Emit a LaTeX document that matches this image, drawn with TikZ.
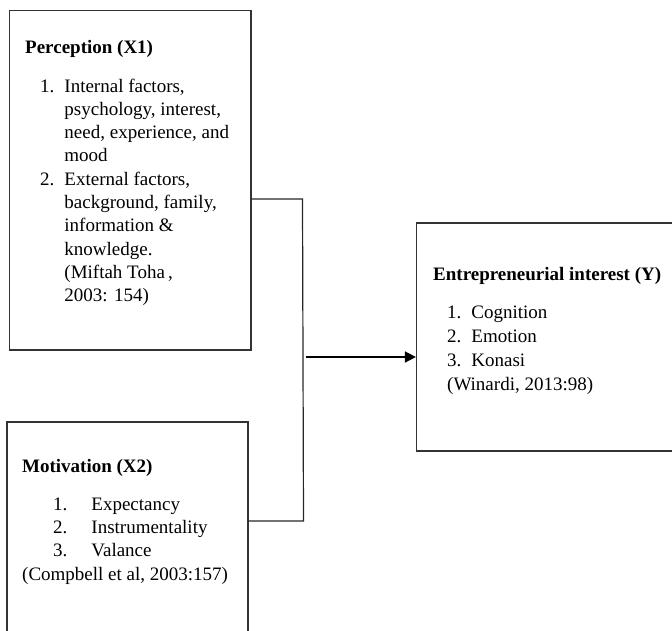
\documentclass[tikz,border=0pt]{standalone}
\usepackage{fontspec}
\setmainfont{Liberation Serif}
\usetikzlibrary{arrows.meta}
\tikzset{
  box/.style={draw=black!80, line width=1.2pt, inner sep=0pt, rectangle},
  conn/.style={draw=black!85, line width=1.2pt},
  txt/.style={anchor=base west, inner sep=0pt, font=\fontsize{19}{23.3}\selectfont},
  ttl/.style={txt, font=\fontsize{19}{23.3}\selectfont\bfseries}
}
\begin{document}
\begin{tikzpicture}[x=1pt,y=-1pt]
\useasboundingbox (0,0) rectangle (672,630);
\begin{scope}
\clip (0,0) rectangle (672,630);
% boxes
\node[box, minimum width=241.5pt, minimum height=339.5pt] (b1) at (130.25,180.25) {};
\node[box, minimum width=241pt, minimum height=228pt] (b2) at (127.5,536) {};
\node[box, minimum width=268pt, minimum height=228pt] (b3) at (550.5,337) {};
\end{scope}
% box 1 text
\node[ttl] (t1) at (25,53) {Perception (X1)};
\node[txt] (l1) at (40,92) {\begin{tabular}[t]{@{}l@{\hspace{10pt}}l@{}}
1. & Internal factors,\\
   & psychology, interest,\\
   & need, experience, and\\
   & mood\\
2. & External factors,\\
   & background, family,\\
   & information \&\\
   & knowledge.\\
   & (Miftah Toha\,,\\
   & 2003: 154)
\end{tabular}};
% box 2 text
\node[ttl] (t2) at (22,472) {Motivation (X2)};
\node[txt] (l2) at (53,510) {\begin{tabular}[t]{@{}l@{\hspace{24pt}}l@{}}
1. & Expectancy\\
2. & Instrumentality\\
3. & Valance
\end{tabular}};
\node[txt] (c2) at (22,580) {(Compbell et al, 2003:157)};
% box 3 text
\node[ttl] (t3) at (433,280) {Entrepreneurial interest (Y)};
\node[txt, font=\fontsize{19}{24}\selectfont] (l3) at (447,318) {\begin{tabular}[t]{@{}l@{\hspace{10pt}}l@{}}
1. & Cognition\\
2. & Emotion\\
3. & Konasi\\
\multicolumn{2}{@{}l@{}}{(Winardi, 2013:98)}
\end{tabular}};
% connectors
\coordinate (j1) at (302.5,199);
\coordinate (j2) at (303.5,521);
\coordinate (jm) at (305.5,357);
\draw[conn] (b1.east |- j1) -- (j1) -- (j2) -- (b2.east |- j2);
\draw[conn, draw=black, line width=1.6pt, -{Triangle[length=11pt,width=11pt]}] (jm) -- (b3.west |- jm);
\end{tikzpicture}
\end{document}
